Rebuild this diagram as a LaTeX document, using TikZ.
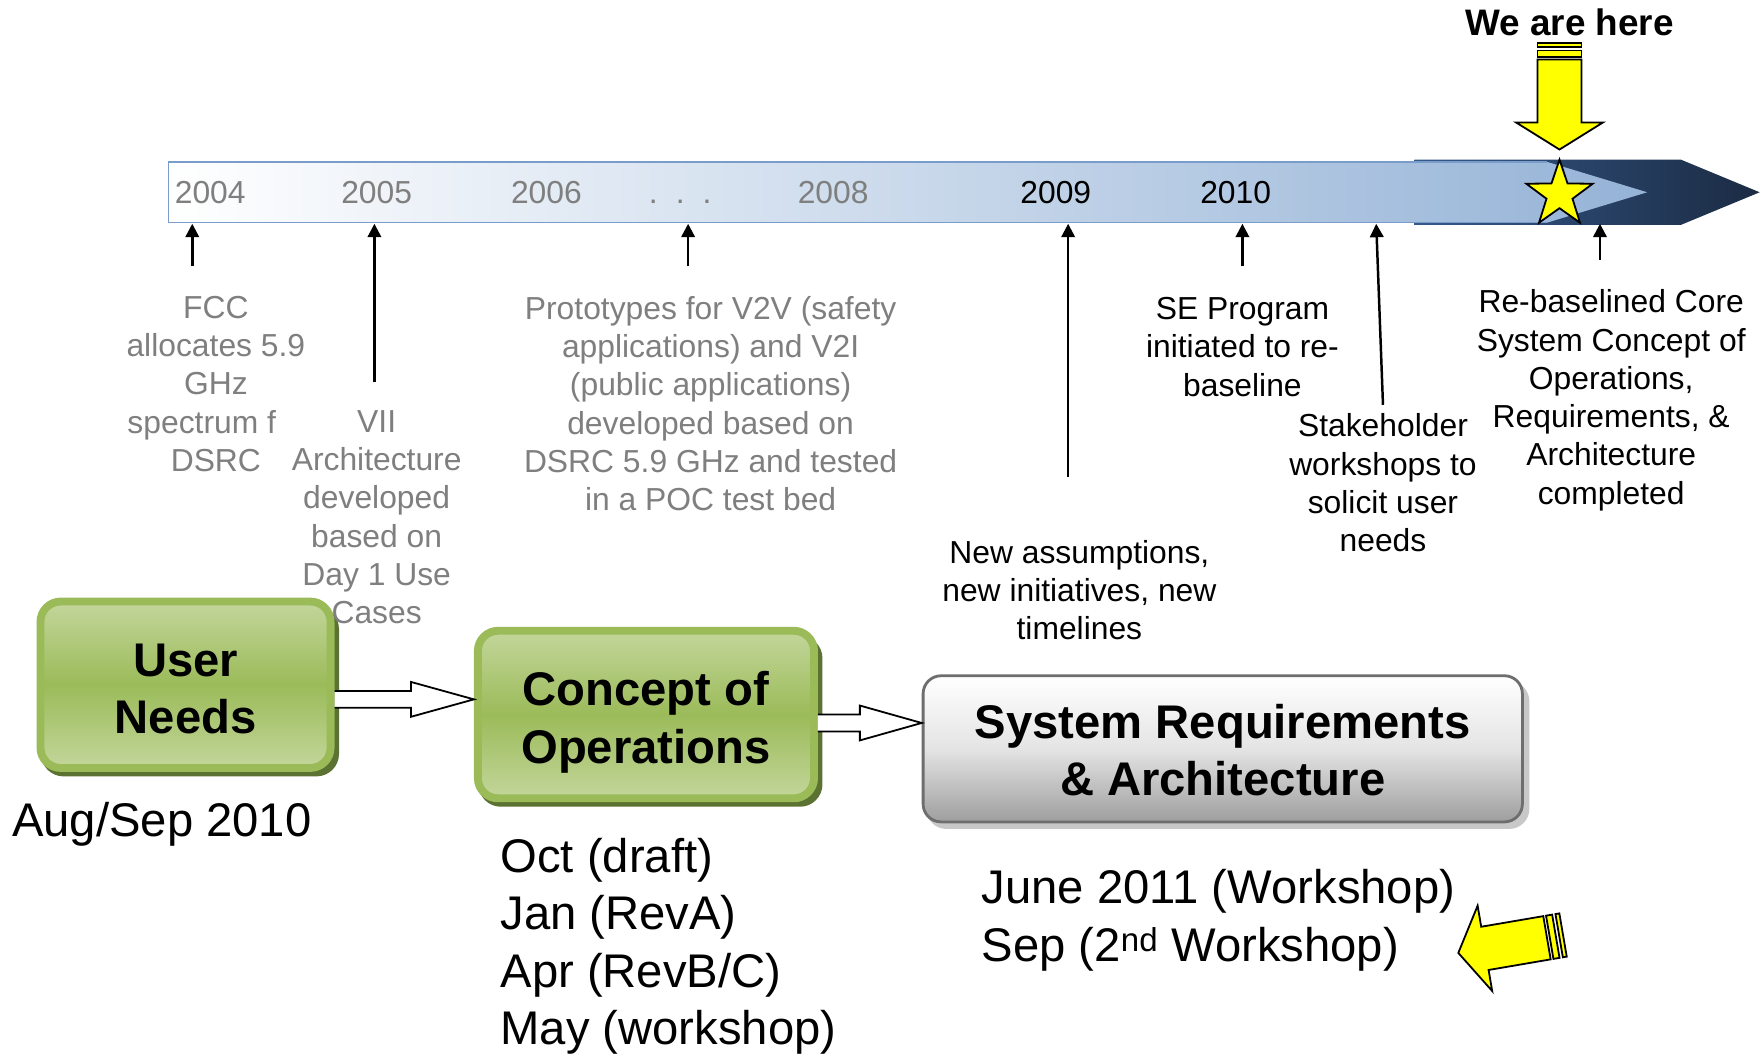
\documentclass[tikz,border=0pt]{standalone}
\usepackage{fontspec}
\setmainfont{Liberation Sans}
\usetikzlibrary{shapes.geometric,arrows.meta,calc,backgrounds}
\definecolor{gtxt}{HTML}{7F7F7F}
\definecolor{barblue}{HTML}{95B3D7}
\definecolor{barline}{HTML}{7A9CCB}
\definecolor{darkA}{HTML}{35598A}
\definecolor{darkB}{HTML}{1B2B43}
\definecolor{gLight}{HTML}{C3D69B}
\definecolor{gMid}{HTML}{9BBB59}
\definecolor{gBorder}{HTML}{9BBB59}
\definecolor{gShadow}{HTML}{5B7232}
\definecolor{sBorder}{HTML}{6E6E6E}
\definecolor{sShadow}{HTML}{C8C8C8}
\definecolor{sBottom}{HTML}{9E9E9E}
\definecolor{sMid}{HTML}{E4E4E4}
\definecolor{yel}{HTML}{FFFF00}
\begin{document}
\begin{tikzpicture}[x=1pt,y=-1pt,
  lbl/.style={font=\fontsize{28.3}{34}\selectfont, align=center, inner sep=0pt},
  glbl/.style={lbl, text=gtxt},
  yr/.style={font=\fontsize{28.3}{34}\selectfont, inner sep=0pt},
  big/.style={font=\fontsize{42}{51}\selectfont, align=left, inner sep=0pt},
  boxtxt/.style={font=\fontsize{42}{51}\bfseries\selectfont, align=center, inner sep=0pt},
  greenbox/.style={rounded corners=18pt, draw=gBorder, line width=7pt, top color=gLight, bottom color=gLight, middle color=gMid},
  graybox/.style={rounded corners=16pt, draw=sBorder, line width=2.5pt, top color=white, bottom color=sBottom, middle color=sMid},
  hollow/.style={fill=white, draw=black, line width=1.6pt, line join=miter},
  tick/.style={-{Triangle[width=12pt,length=12pt]}, line width=2.2pt},
  yellowarrow/.style={fill=yel, draw=black, line width=1.6pt, line join=miter},
  yarr/.pic={
    \draw[yellowarrow] (0,0) -- (-24,38.5) -- (-24,19.5) -- (-80,19.5) -- (-80,-19.5) -- (-24,-19.5) -- (-24,-38.5) -- cycle;
    \draw[yellowarrow] (-88,-19.5) rectangle (-82.5,19.5);
    \draw[yellowarrow] (-94.5,-19.5) rectangle (-91,19.5);
  }
]
\useasboundingbox (0,0) rectangle (1568,937);

% timeline bar
\shade[left color=darkA, right color=darkB] (1258,142) -- (1495,142) -- (1565,171) -- (1495,200) -- (1258,200) -- cycle;
\shade[left color=white, right color=barblue] (150,144) -- (1376,144) -- (1465,171) -- (1376,198) -- (150,198) -- cycle;
\draw[barline, line width=1.2pt] (1376,144) -- (150,144) -- (150,198) -- (1376,198);

% years
\node[yr, text=gtxt] (y04) at (187,171) {2004};
\node[yr, text=gtxt] (y05) at (335,171) {2005};
\node[yr, text=gtxt] (y06) at (486,171) {2006};
\node[yr, text=gtxt] (ydots) at (605,171) {\vphantom{0}.\hspace{16pt}.\hspace{16pt}.};
\node[yr, text=gtxt] (y08) at (741,171) {2008};
\node[yr] (y09) at (939,171) {2009};
\node[yr] (y10) at (1099,171) {2010};

% star and "we are here"
\node[star, star points=5, star point ratio=2.55, minimum size=62pt, inner sep=0pt, fill=yel, draw=black, line width=1.6pt] (star) at (1387,173) {};
\node[font=\fontsize{32.8}{40}\bfseries\selectfont, inner sep=0pt] (here) at (1396,20) {We are here};
\pic[rotate=-90] at (1387,133) {yarr};
\pic[rotate=189.7] at (1297,847.5) {yarr};

% boxes
\node[greenbox, minimum width=258pt, minimum height=148pt] (un) at (165,609) {};
\node[greenbox, minimum width=299pt, minimum height=149pt] (co) at (574.5,635.5) {};
\node[graybox, minimum width=533pt, minimum height=130pt] (sr) at (1087.5,666) {};
\node[boxtxt] (unt) at ($(un.center)+(0,3.5)$) {User\\Needs};
\node[boxtxt] (cot) at ($(co.center)+(0,7)$) {Concept of\\Operations};
\node[boxtxt] (srt) at ($(sr.center)+(0,1)$) {System Requirements\\\& Architecture};
\begin{scope}[on background layer]
  \fill[white] (0,0) rectangle (1568,937);
  \fill[gShadow, rounded corners=20pt] ($(un.south west)+(4,4)$) rectangle ($(un.north east)+(4,8)$);
  \fill[gShadow, rounded corners=20pt] ($(co.south west)+(4,4)$) rectangle ($(co.north east)+(4,8)$);
  \fill[sShadow, rounded corners=18pt] ($(sr.south west)+(4,5)$) rectangle ($(sr.north east)+(5,6)$);
\end{scope}

% hollow arrows between boxes
\coordinate (a1s) at (un.east |- 0,622);
\coordinate (a1e) at (co.west |- 0,622);
\draw[hollow] ($(a1s)+(0,-7.5)$) -- ($(a1e)+(-56,-7.5)$) -- ($(a1e)+(-56,-15.5)$) -- (a1e) -- ($(a1e)+(-56,15.5)$) -- ($(a1e)+(-56,7.5)$) -- ($(a1s)+(0,7.5)$);
\coordinate (a2s) at (co.east |- 0,643);
\coordinate (a2e) at (sr.west |- 0,643);
\draw[hollow] ($(a2s)+(0,-7.5)$) -- ($(a2e)+(-55,-7.5)$) -- ($(a2e)+(-55,-15.5)$) -- (a2e) -- ($(a2e)+(-55,15.5)$) -- ($(a2e)+(-55,7.5)$) -- ($(a2s)+(0,7.5)$);

% event labels
\node[glbl] (fcc) at (192,341.5) {FCC\\allocates 5.9\\GHz\\spectrum f\hphantom{or}\\DSRC};
\node[glbl] (vii) at (335,460) {VII\\Architecture\\developed\\based on\\Day 1 Use\\Cases};
\node[glbl] (proto) at (632,359) {Prototypes for V2V (safety\\applications) and V2I\\(public applications)\\developed based on\\DSRC 5.9 GHz and tested\\in a POC test bed};
\node[lbl] (newa) at (960,525) {New assumptions,\\new initiatives, new\\timelines};
\node[lbl] (sep) at (1105,308.5) {SE Program\\initiated to re-\\baseline};
\node[lbl] (stake) at (1230,429.5) {Stakeholder\\workshops to\\solicit user\\needs};
\node[lbl] (rebase) at (1433,356) {Re-baselined Core\\System Concept of\\Operations,\\Requirements, \&\\Architecture\\completed};

% tick arrows
\coordinate (s04) at (171,237);  \coordinate (b04) at (171,199);
\coordinate (s05) at (333,340);  \coordinate (b05) at (333,199);
\coordinate (s06) at (612,237);  \coordinate (b06) at (612,199);
\coordinate (s09) at (950,424);  \coordinate (b09) at (950,199);
\coordinate (s10) at (1105,237); \coordinate (b10) at (1105,199);
\coordinate (sst) at (1230,360); \coordinate (bst) at (1224,199);
\coordinate (sre) at (1423,231); \coordinate (bre) at (1423,199);
\draw[tick] (s04) -- (b04);
\draw[tick] (s05) -- (b05);
\draw[tick] (s06) -- (b06);
\draw[tick] (s09) -- (b09);
\draw[tick] (s10) -- (b10);
\draw[tick] (sst) -- (bst);
\draw[tick] (sre) -- (bre);

% dates
\node[big] (aug) at (144,733) {Aug/Sep 2010};
\node[big, anchor=west] (oct) at (445,841.5) {Oct (draft)\\Jan (RevA)\\Apr (RevB/C)\\May (workshop)};
\node[big, anchor=west] (jun) at (873,818.5) {June 2011 (Workshop)\\Sep (2\textsuperscript{nd} Workshop)};
\end{tikzpicture}
\end{document}
